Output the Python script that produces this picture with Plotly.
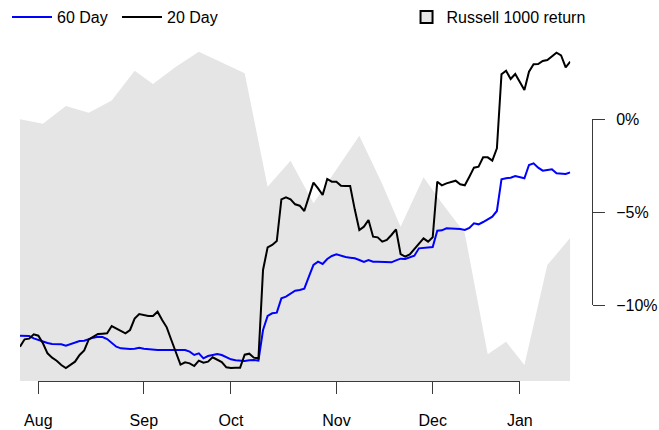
import numpy as np
import pandas as pd
import plotly.graph_objects as go
from pandas.tseries.offsets import CustomBusinessDay

# ---------------- data ----------------
holidays = ["2018-09-03", "2018-11-22", "2018-12-05", "2018-12-25", "2019-01-01"]
trade_dates = pd.date_range("2018-07-26", "2019-01-17", freq=CustomBusinessDay(holidays=holidays))

# 60-day series (hidden left scale, arbitrary units)
day60 = [13.3, 13.3, 13.2, 12.5, 12.0, 11.5, 11.1, 10.8, 10.8, 10.7,
         10.3, 10.7, 11.2, 11.7, 11.8, 12.3, 12.7, 13.0, 12.9, 12.3,
         11.2, 10.0, 9.5, 9.3, 9.3, 9.4, 9.7, 9.4, 9.2, 9.1,
         9.0, 9.0, 9.0, 9.0, 9.0, 8.9, 9.0, 8.5, 7.5, 8.0,
         6.5, 7.2, 7.5, 7.8, 7.5, 6.8, 6.2, 5.9, 5.8, 5.7,
         5.9, 6.0, 5.8, 15.0, 19.2, 20.0, 20.2, 24.5, 25.0, 26.0,
         26.8, 27.0, 27.4, 31.0, 34.5, 35.5, 34.8, 36.3, 37.2, 37.7,
         37.2, 36.9, 36.7, 36.5, 36.0, 35.4, 36.0, 35.5, 35.5, 35.4,
         35.3, 35.3, 35.9, 36.4, 36.3, 36.8, 37.3, 39.5, 39.7, 39.7,
         39.9, 44.8, 44.9, 45.5, 45.5, 45.4, 45.3, 45.0, 45.6, 47.0,
         46.7, 47.4, 48.2, 49.0, 50.7, 60.2, 60.5, 60.7, 61.2, 60.8,
         60.5, 64.5, 65.0, 63.7, 62.8, 63.0, 63.2, 62.0, 61.9, 61.8,
         62.3]

# 20-day series (hidden left scale, arbitrary units)
day20 = [10.0, 12.2, 12.4, 13.7, 13.3, 11.0, 8.0, 6.7, 5.8, 4.5,
         3.6, 4.5, 5.5, 7.5, 8.9, 12.2, 13.0, 13.8, 13.9, 14.0,
         16.2, 15.5, 14.8, 14.0, 15.0, 18.4, 19.8, 19.4, 19.2, 19.2,
         20.5, 18.0, 15.8, 12.0, 8.0, 4.6, 5.3, 5.0, 4.2, 5.8,
         5.2, 5.5, 6.8, 6.2, 5.4, 3.8, 3.6, 3.7, 3.7, 7.6,
         7.9, 6.7, 6.5, 33.0, 39.8, 40.5, 41.7, 54.2, 54.8, 54.2,
         52.7, 52.3, 50.7, 55.0, 59.2, 57.5, 55.5, 60.3, 59.5, 59.5,
         58.3, 58.2, 58.2, 51.2, 45.0, 46.0, 48.0, 43.0, 42.8, 41.5,
         42.0, 43.5, 45.2, 37.8, 37.0, 37.7, 39.3, 41.0, 42.5, 41.5,
         42.8, 59.5, 58.4, 59.0, 59.4, 59.8, 58.7, 58.4, 61.0, 63.7,
         64.0, 66.8, 66.8, 65.8, 69.5, 91.7, 92.8, 90.3, 91.8, 89.5,
         87.0, 92.5, 94.7, 94.8, 95.7, 96.0, 97.0, 98.2, 97.4, 93.8,
         95.5]

# Russell 1000 cumulative return (%), weekly
russell_dates = ["2018-07-26", "2018-08-02", "2018-08-09", "2018-08-16", "2018-08-23",
                 "2018-08-30", "2018-09-06", "2018-09-13", "2018-09-20", "2018-09-27",
                 "2018-10-04", "2018-10-11", "2018-10-18", "2018-10-25", "2018-11-01",
                 "2018-11-08", "2018-11-15", "2018-11-21", "2018-11-29", "2018-12-06",
                 "2018-12-13", "2018-12-20", "2018-12-27", "2019-01-03", "2019-01-10",
                 "2019-01-17"]
russell_ret = [0.0, -0.24, 0.72, 0.36, 1.02, 2.62, 1.90, 2.83, 3.64, 3.07,
               2.48, -3.63, -2.23, -4.52, -2.68, -0.88, -3.48, -5.78, -3.12, -4.5,
               -6.14, -12.65, -11.98, -13.23, -7.85, -6.38]

month_ticks = ["2018-08-01", "2018-09-04", "2018-10-01", "2018-11-01", "2018-12-03", "2019-01-02"]
month_labels = ["Aug", "Sep", "Oct", "Nov", "Dec", "Jan"]

pct_ticks = [-10, -5, 0]
pct_labels = ["\u221210%", "\u22125%", "0%"]

# ---------------- scales ----------------
xi = np.arange(len(trade_dates))                      # trading-day index
rx = trade_dates.get_indexer(pd.to_datetime(russell_dates))
tx = trade_dates.get_indexer(pd.to_datetime(month_ticks))
N = len(trade_dates) - 1

G_LO, G_HI = -14.09, 4.81          # percent scale of plot area
V_LO, V_HI = -0.3, 105.0           # hidden scale for the day series
XD = 0.962                         # horizontal domain of the data region

def yfrac(p):
    return (p - G_LO) / (G_HI - G_LO)

FONT = "Liberation Sans, Arial, sans-serif"
AX = "#3a3a3a"

fig = go.Figure()
fig.add_trace(go.Scatter(x=rx, y=[G_LO] * len(rx), mode="lines", line=dict(width=0),
                         showlegend=False, hoverinfo="skip"))
fig.add_trace(go.Scatter(x=rx, y=russell_ret, mode="lines", line=dict(width=0),
                         fill="tonexty", fillcolor="#E5E5E5", showlegend=False,
                         name="Russell 1000 return"))
fig.add_trace(go.Scatter(x=xi, y=day60, yaxis="y2", mode="lines", name="60 Day",
                         line=dict(color="#0000FF", width=2), legend="legend"))
fig.add_trace(go.Scatter(x=xi, y=day20, yaxis="y2", mode="lines", name="20 Day",
                         line=dict(color="#000000", width=2), legend="legend"))
fig.add_trace(go.Scatter(x=[None], y=[None], mode="markers", name="Russell 1000 return",
                         marker=dict(symbol="square", size=12, color="#E5E5E5",
                                     line=dict(color="#000000", width=2)),
                         legend="legend2"))
# carriers for the two drawn axes
fig.add_trace(go.Scatter(x=[tx[0]], y=[0], xaxis="x2", yaxis="y", mode="markers",
                         marker=dict(opacity=0), showlegend=False, hoverinfo="skip"))
fig.add_trace(go.Scatter(x=[0], y=[-5], xaxis="x", yaxis="y3", mode="markers",
                         marker=dict(opacity=0), showlegend=False, hoverinfo="skip"))

fig.update_layout(
    width=659, height=430,
    margin=dict(l=20, r=67, t=30, b=49, autoexpand=False),
    paper_bgcolor="white", plot_bgcolor="rgba(0,0,0,0)",
    font=dict(family=FONT, size=16, color="black"),
    hovermode=False,
    xaxis=dict(domain=[0, XD], range=[0, N], visible=False, fixedrange=True, automargin=False),
    xaxis2=dict(domain=[XD * tx[0] / N, XD * tx[-1] / N], range=[tx[0], tx[-1]],
                anchor="free", position=0, showline=True, linecolor=AX, linewidth=1,
                ticks="outside", ticklen=12, tickcolor=AX, tickwidth=1,
                tickvals=tx, ticktext=month_labels, showgrid=False, zeroline=False,
                ticklabelstandoff=13, tickfont=dict(size=16), automargin=False),
    yaxis=dict(domain=[0, 1], range=[G_LO, G_HI], visible=False, automargin=False),
    yaxis2=dict(overlaying="y", range=[V_LO, V_HI], visible=False, automargin=False),
    yaxis3=dict(domain=[yfrac(-10), yfrac(0)], range=[-10, 0], anchor="free", position=1,
                side="right", showline=True, linecolor=AX, linewidth=1,
                ticks="outside", ticklen=12, tickcolor=AX, tickwidth=1,
                tickvals=pct_ticks, ticktext=pct_labels, showgrid=False, zeroline=False,
                ticklabelstandoff=8, tickfont=dict(size=16), automargin=False),
    legend=dict(orientation="h", xref="container", yref="container",
                x=0.0106, y=0.9605, xanchor="left", yanchor="middle", traceorder="normal",
                itemwidth=40, entrywidth=55, entrywidthmode="pixels",
                bgcolor="rgba(0,0,0,0)", font=dict(size=16)),
    legend2=dict(orientation="h", xref="container", yref="container",
                 x=0.6169, y=0.9605, xanchor="left", yanchor="middle",
                 bgcolor="rgba(0,0,0,0)", font=dict(size=16)),
)

fig.write_html("out.html",
               config={"displayModeBar": False, "staticPlot": True},
               post_script="document.documentElement.style.margin='0';"
                           "document.body.style.margin='0';"
                           "document.body.style.overflow='hidden';")
